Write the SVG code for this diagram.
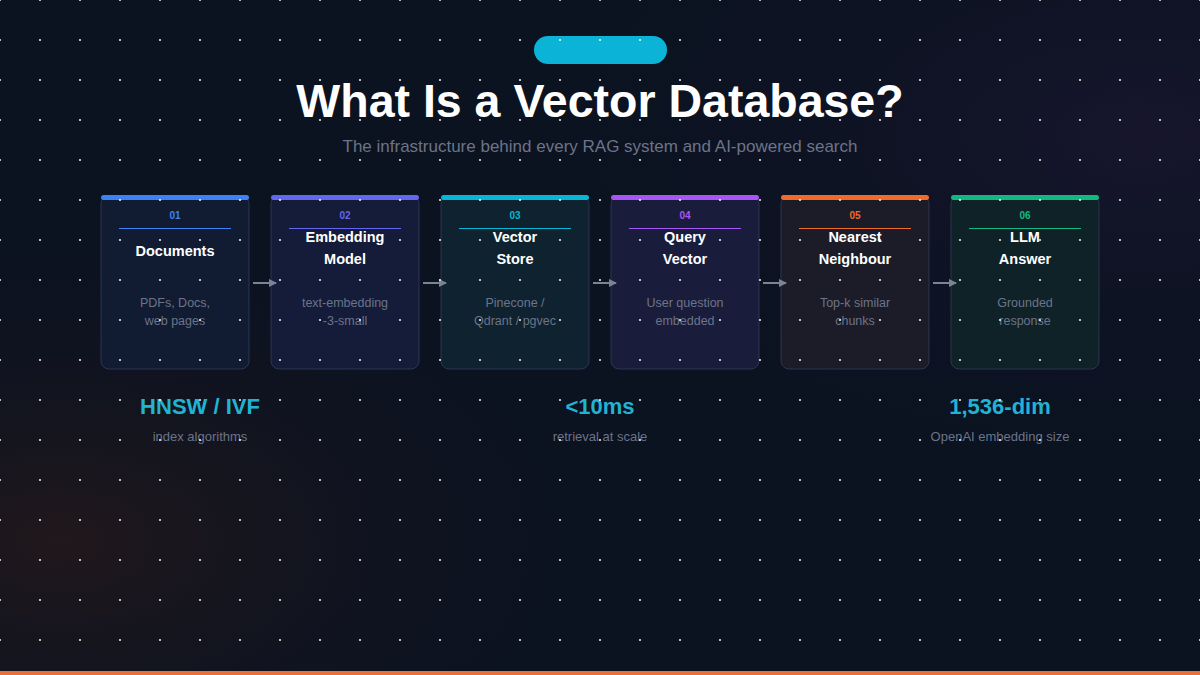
<svg xmlns="http://www.w3.org/2000/svg" width="1200" height="675" viewBox="0 0 1200 675">
<defs>
<radialGradient id="glow1" cx="0.05" cy="0.8" r="0.5"><stop offset="0" stop-color="#2a1a1a" stop-opacity="0.7"/><stop offset="1" stop-color="#0c1422" stop-opacity="0"/></radialGradient>
<radialGradient id="glow2" cx="0.95" cy="0.2" r="0.5"><stop offset="0" stop-color="#1a1630" stop-opacity="0.8"/><stop offset="1" stop-color="#0c1422" stop-opacity="0"/></radialGradient>
<pattern id="dots" width="40" height="40" patternUnits="userSpaceOnUse"><circle cx="0" cy="0" r="1.1" fill="#ffffff"/><circle cx="40" cy="0" r="1.1" fill="#ffffff"/><circle cx="0" cy="40" r="1.1" fill="#ffffff"/><circle cx="40" cy="40" r="1.1" fill="#ffffff"/></pattern>
<marker id="arr" markerWidth="8" markerHeight="8" refX="7" refY="4" orient="auto" markerUnits="userSpaceOnUse"><path d="M0,0 L8,4 L0,8 z" fill="#7b8494"/></marker>
<style>
.card{stroke:#2a3550;stroke-width:1}
.num{font-family:"Liberation Sans",Arial,sans-serif;font-size:10px;font-weight:bold;text-anchor:middle}
.title{font-family:"Liberation Sans",Arial,sans-serif;font-size:14.5px;font-weight:bold;fill:#ffffff;text-anchor:middle}
.desc{font-family:"Liberation Sans",Arial,sans-serif;font-size:12.5px;fill:#6b7488;text-anchor:middle}
.stat{font-family:"Liberation Sans",Arial,sans-serif;font-size:22px;font-weight:bold;fill:#22b3d4;text-anchor:middle}
.statl{font-family:"Liberation Sans",Arial,sans-serif;font-size:13px;fill:#6b7488;text-anchor:middle}
.conn{stroke:#7b8494;stroke-width:2;fill:none}
</style>
</defs>
<rect width="1200" height="675" fill="#0b1220"/>
<rect width="1200" height="675" fill="url(#glow1)"/>
<rect width="1200" height="675" fill="url(#glow2)"/>
<rect x="534" y="36" width="133" height="28" rx="14" fill="#0bb4d6"/>
<text x="600" y="117" font-family="Liberation Sans,Arial,sans-serif" font-size="46.5" font-weight="bold" fill="#ffffff" text-anchor="middle">What Is a Vector Database?</text>
<text x="600" y="152" font-family="Liberation Sans,Arial,sans-serif" font-size="17" fill="#6b7488" text-anchor="middle">The infrastructure behind every RAG system and AI-powered search</text>

<g id="n1"><rect class="card" x="101" y="196" width="148" height="173" rx="8" fill="#111c33"/><rect x="101" y="195" width="148" height="5" rx="2.5" fill="#3b82f6"/><text class="num" x="175" y="219" fill="#3b82f6">01</text><line x1="119" y1="228.5" x2="231" y2="228.5" stroke="#3b82f6"/><text class="title" x="175" y="256">Documents</text><text class="desc" x="175" y="307">PDFs, Docs,</text><text class="desc" x="175" y="325">web pages</text></g>
<g id="n2"><rect class="card" x="271" y="196" width="148" height="173" rx="8" fill="#141c3a"/><rect x="271" y="195" width="148" height="5" rx="2.5" fill="#6366f1"/><text class="num" x="345" y="219" fill="#6366f1">02</text><line x1="289" y1="228.5" x2="401" y2="228.5" stroke="#6366f1"/><text class="title" x="345" y="242">Embedding</text><text class="title" x="345" y="264">Model</text><text class="desc" x="345" y="307">text-embedding</text><text class="desc" x="345" y="325">-3-small</text></g>
<g id="n3"><rect class="card" x="441" y="196" width="148" height="173" rx="8" fill="#0f2230" stroke="#1e4050"/><rect x="441" y="195" width="148" height="5" rx="2.5" fill="#06b6d4"/><text class="num" x="515" y="219" fill="#06b6d4">03</text><line x1="459" y1="228.5" x2="571" y2="228.5" stroke="#06b6d4"/><text class="title" x="515" y="242">Vector</text><text class="title" x="515" y="264">Store</text><text class="desc" x="515" y="307">Pinecone /</text><text class="desc" x="515" y="325">Qdrant / pgvec</text></g>
<g id="n4"><rect class="card" x="611" y="196" width="148" height="173" rx="8" fill="#1a1c3c"/><rect x="611" y="195" width="148" height="5" rx="2.5" fill="#a855f7"/><text class="num" x="685" y="219" fill="#a855f7">04</text><line x1="629" y1="228.5" x2="741" y2="228.5" stroke="#a855f7"/><text class="title" x="685" y="242">Query</text><text class="title" x="685" y="264">Vector</text><text class="desc" x="685" y="307">User question</text><text class="desc" x="685" y="325">embedded</text></g>
<g id="n5"><rect class="card" x="781" y="196" width="148" height="173" rx="8" fill="#1c1c28" stroke="#33303a"/><rect x="781" y="195" width="148" height="5" rx="2.5" fill="#f06a2a"/><text class="num" x="855" y="219" fill="#f06a2a">05</text><line x1="799" y1="228.5" x2="911" y2="228.5" stroke="#f06a2a"/><text class="title" x="855" y="242">Nearest</text><text class="title" x="855" y="264">Neighbour</text><text class="desc" x="855" y="307">Top-k similar</text><text class="desc" x="855" y="325">chunks</text></g>
<g id="n6"><rect class="card" x="951" y="196" width="148" height="173" rx="8" fill="#0f2228" stroke="#1e3c3c"/><rect x="951" y="195" width="148" height="5" rx="2.5" fill="#10b981"/><text class="num" x="1025" y="219" fill="#10b981">06</text><line x1="969" y1="228.5" x2="1081" y2="228.5" stroke="#10b981"/><text class="title" x="1025" y="242">LLM</text><text class="title" x="1025" y="264">Answer</text><text class="desc" x="1025" y="307">Grounded</text><text class="desc" x="1025" y="325">response</text></g>

<g id="connectors">
<line class="conn" x1="253" y1="283" x2="276" y2="283" marker-end="url(#arr)"/>
<line class="conn" x1="423" y1="283" x2="446" y2="283" marker-end="url(#arr)"/>
<line class="conn" x1="593" y1="283" x2="616" y2="283" marker-end="url(#arr)"/>
<line class="conn" x1="763" y1="283" x2="786" y2="283" marker-end="url(#arr)"/>
<line class="conn" x1="933" y1="283" x2="956" y2="283" marker-end="url(#arr)"/>
</g>

<text class="stat" x="200" y="414">HNSW / IVF</text><text class="statl" x="200" y="441">index algorithms</text>
<text class="stat" x="600" y="414">&lt;10ms</text><text class="statl" x="600" y="441">retrieval at scale</text>
<text class="stat" x="1000" y="414">1,536-dim</text><text class="statl" x="1000" y="441">OpenAI embedding size</text>

<rect width="1200" height="675" fill="url(#dots)" opacity="0.9"/>
<rect x="0" y="671" width="1200" height="4" fill="#e8703a"/>
</svg>
